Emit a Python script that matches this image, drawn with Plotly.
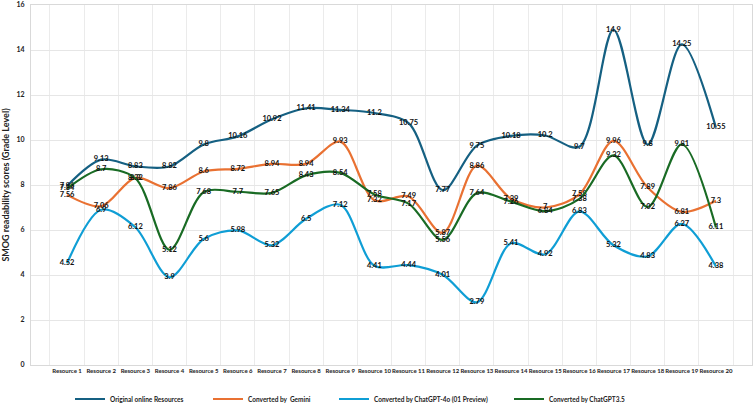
import plotly.graph_objects as go

resources = [f"Resource {i}" for i in range(1, 21)]

original = [7.96, 9.13, 8.83, 8.82, 9.8, 10.16, 10.92, 11.41, 11.34, 11.2,
            10.75, 7.77, 9.75, 10.18, 10.2, 9.7, 14.9, 9.8, 14.25, 10.55]
gemini = [7.56, 7.06, 8.32, 7.86, 8.6, 8.72, 8.94, 8.94, 9.93, 7.32,
          7.49, 5.87, 8.86, 7.39, 7.0, 7.58, 9.96, 7.89, 6.81, 7.3]
gpt4o = [4.52, 6.9, 6.12, 3.9, 5.6, 5.98, 5.32, 6.5, 7.12, 4.41,
         4.44, 4.01, 2.79, 5.41, 4.92, 6.83, 5.32, 4.83, 6.27, 4.38]
gpt35 = [7.84, 8.7, 8.3, 5.12, 7.68, 7.7, 7.65, 8.43, 8.54, 7.58,
         7.17, 5.56, 7.64, 7.26, 6.84, 7.38, 9.32, 7.02, 9.81, 6.11]

series = [
    ("Original online Resources", original, "#156082"),
    ("Converted by  Gemini", gemini, "#E97132"),
    ("Converted by ChatGPT-4o (01 Preview)", gpt4o, "#0F9ED5"),
    ("Converted by ChatGPT3.5", gpt35, "#196B24"),
]

FONT = "Lato, Liberation Sans, sans-serif"
W, H = 755, 404

# each legend entry gets its own legend box so the uneven spacing can be matched
legend_text_x = [112, 250, 376, 551]

fig = go.Figure()
legends = {}
for i, (name, vals, color) in enumerate(series):
    key = "legend" if i == 0 else f"legend{i + 1}"
    fig.add_trace(go.Scatter(
        x=resources, y=vals, name=name, mode="lines+text", legend=key,
        line=dict(color=color, width=2.2, shape="spline", smoothing=0.9),
        text=[f"{v:g}" for v in vals], textposition="middle center",
        textfont=dict(family=FONT, size=7.5, color="#111111", weight="bold"),
        cliponaxis=False,
    ))
    legends[key] = dict(
        orientation="h", xref="container", x=(legend_text_x[i] - 42) / W, xanchor="left",
        yref="container", y=(H - 399) / H, yanchor="middle",
        font=dict(family=FONT, size=6.5, color="#222222", weight="bold"),
        itemwidth=30, bgcolor="rgba(0,0,0,0)",
    )

fig.update_layout(
    width=W, height=H,
    margin=dict(l=31, r=3, t=5, b=39),
    paper_bgcolor="white", plot_bgcolor="white",
    font=dict(family=FONT, size=7, color="#222222"),
    showlegend=True,
    **legends,
)
fig.update_xaxes(
    type="category", showgrid=True, gridcolor="#EBEBEB", tickson="boundaries",
    showline=True, linecolor="#D9D9D9", mirror=True, ticks="", tickangle=0,
    automargin=False,
    tickfont=dict(family=FONT, size=6, weight="bold"),
)
fig.update_yaxes(
    range=[0, 16], dtick=2, showgrid=True, gridcolor="#E6E6E6",
    showline=True, linecolor="#D9D9D9", mirror=True, zeroline=False, ticks="",
    automargin=False, ticklabelstandoff=4,
    tickfont=dict(family=FONT, size=7, weight="bold"),
    title=dict(text="SMOG readability scores (Grade Level)", standoff=6,
               font=dict(family=FONT, size=9, weight="bold")),
)

# the page's default body margin would push the figure 8px down/right
fig.write_html("out.html", config={"displayModeBar": False},
               post_script="document.body.style.margin = '0';")
